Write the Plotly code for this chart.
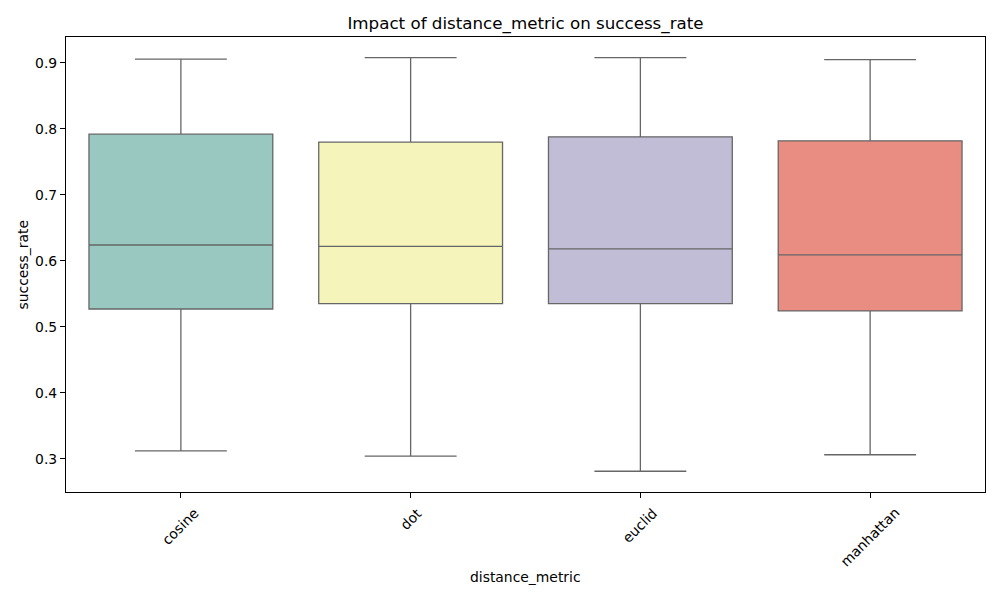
import plotly.graph_objects as go

# box statistics
metrics = ["cosine", "dot", "euclid", "manhattan"]
lower = [0.312, 0.304, 0.281, 0.306]
q1 = [0.527, 0.535, 0.535, 0.524]
median = [0.624, 0.622, 0.618, 0.609]
q3 = [0.792, 0.780, 0.788, 0.782]
upper = [0.906, 0.908, 0.908, 0.905]
colors = ["#98c8c0", "#f5f5bb", "#c1bdd6", "#e98c82"]

FONT = "DejaVu Sans"

fig = go.Figure()
for i, m in enumerate(metrics):
    fig.add_trace(go.Box(
        x=[m],
        q1=[q1[i]],
        median=[median[i]],
        q3=[q3[i]],
        lowerfence=[lower[i]],
        upperfence=[upper[i]],
        name=m,
        fillcolor=colors[i],
        line=dict(color="#666666", width=1.3),
        width=0.8,
        whiskerwidth=0.5,
        boxpoints=False,
        hoverinfo="y",
    ))

# rotated category labels, centred under each tick like matplotlib does
for m in metrics:
    fig.add_annotation(
        x=m, y=0, xref="x", yref="paper",
        text=m, textangle=-45, showarrow=False,
        xanchor="center", yanchor="top", yshift=-10,
        font=dict(family=FONT, size=13.9, color="black"),
    )

# axis titles
fig.add_annotation(
    x=0.5, y=0, xref="paper", yref="paper", text="distance_metric",
    showarrow=False, xanchor="center", yanchor="middle", yshift=-85,
    font=dict(family=FONT, size=13.9, color="black"),
)
fig.add_annotation(
    x=0, y=0.5, xref="paper", yref="paper", text="success_rate",
    showarrow=False, textangle=-90, xanchor="center", yanchor="middle", xshift=-44,
    font=dict(family=FONT, size=13.9, color="black"),
)

fig.update_layout(
    width=1000, height=600,
    boxmode="overlay",
    showlegend=False,
    paper_bgcolor="white",
    plot_bgcolor="white",
    font=dict(family=FONT, size=13.9, color="black"),
    margin=dict(l=66, r=15, t=37, b=108),
    title=dict(text="Impact of distance_metric on success_rate", x=0.5, xanchor="center",
               xref="paper", y=1 - 23 / 600, yanchor="middle", font=dict(size=16.7)),
    xaxis=dict(
        categoryorder="array", categoryarray=metrics,
        range=[-0.5, len(metrics) - 0.5],
        showticklabels=False, ticks="outside", ticklen=5, tickwidth=1.1, tickcolor="black",
        showline=True, linecolor="black", linewidth=1.1, mirror=True,
        showgrid=False, zeroline=False,
    ),
    yaxis=dict(
        range=[0.2495, 0.9394],
        tickvals=[0.3, 0.4, 0.5, 0.6, 0.7, 0.8, 0.9],
        tickformat=".1f",
        ticks="outside", ticklen=5, tickwidth=1.1, tickcolor="black",
        showline=True, linecolor="black", linewidth=1.1, mirror=True,
        showgrid=False, zeroline=False,
    ),
)

fig.write_html("out.html", config={"displayModeBar": False})

# drop the browser's default body margin so the figure sits at 0,0
with open("out.html", "r", encoding="utf-8") as f:
    html = f.read()
html = html.replace("<body>", '<body style="margin:0">', 1)
with open("out.html", "w", encoding="utf-8") as f:
    f.write(html)
